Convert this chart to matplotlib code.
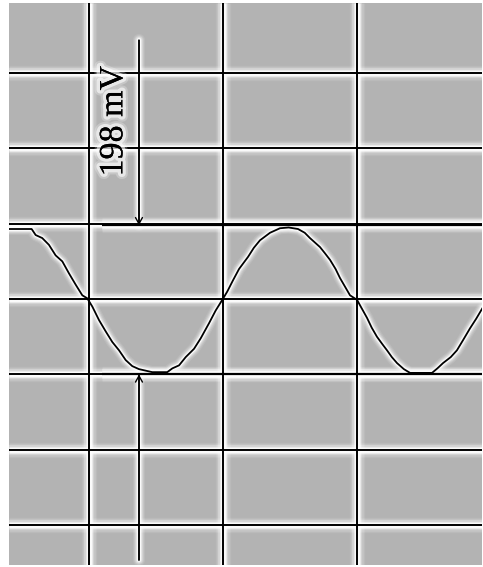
import matplotlib
matplotlib.use("Agg")
import matplotlib.pyplot as plt
import matplotlib.patheffects as pe

# ---- data ----
# time in divisions, signal in mV
time_div = [-0.597, -0.428, -0.398, -0.349, -0.299, -0.249, -0.199, -0.149, -0.099, -0.050,
            -0.013, 0.025, 0.075, 0.125, 0.174, 0.224, 0.274, 0.323, 0.373, 0.472,
            0.584, 0.622, 0.672, 0.722, 0.784, 0.834, 0.896, 0.946, 0.995, 1.032,
            1.075, 1.12, 1.187, 1.23, 1.276, 1.351, 1.425, 1.49, 1.560, 1.61,
            1.649, 1.724, 1.76, 1.799, 1.84, 1.873, 1.948, 2.000, 2.075, 2.11,
            2.149, 2.19, 2.224, 2.26, 2.299, 2.35, 2.396, 2.48, 2.560, 2.60,
            2.642, 2.70, 2.746, 2.79, 2.843, 2.89, 2.94]
signal_mv = [93, 93, 85, 81, 72, 58, 50, 34, 19, 5,
             1, -10, -28, -43, -57, -68, -81, -89, -93, -97,
             -97, -92, -88, -77, -66, -52, -32, -15, -1, 10,
             25, 40, 56, 68, 78, 88, 94, 95, 93, 88,
             81, 69, 61, 52, 40, 28, 5, -1, -25, -38,
             -50, -60, -68, -77, -85, -93, -98, -98, -98, -92,
             -85, -77, -68, -55, -39, -26, -11]

x_grid = [0, 1, 2]
y_grid_mv = [-300, -200, -100, 0, 100, 200, 300]
cursor_top_mv = 98
cursor_bottom_mv = -100
cursor_x_start = 0.10
arrow_x = 0.373
arrow_top_start = 344
arrow_bottom_start = -347
delta_label = "198 mV"
label_pos = (0.187, 236)

xlim = (-0.597, 2.933)
ylim = (-353, 393)

BG = "#b3b3b3"

fig = plt.figure(figsize=(4.83, 5.67), dpi=100)
ax = fig.add_axes([9/483, 2/567, 473/483, 562/567])
ax.set_facecolor(BG)
ax.set_xlim(*xlim)
ax.set_ylim(*ylim)
for s in ax.spines.values():
    s.set_visible(False)
ax.set_xticks([])
ax.set_yticks([])

glow_layers = [(11, 0.10), (9, 0.16), (7, 0.28), (5, 0.5), (3.5, 0.85)]

def glow_line(xs, ys, lw=1.4, glow_scale=1.0, cap="butt"):
    for w, a in glow_layers:
        ax.plot(xs, ys, color="white", lw=w * glow_scale, alpha=a,
                solid_capstyle=cap, solid_joinstyle="round", zorder=1)
    ax.plot(xs, ys, color="black", lw=lw, solid_capstyle="butt",
            solid_joinstyle="round", zorder=3)

for xv in x_grid:
    glow_line([xv, xv], list(ylim))
for yv in y_grid_mv:
    glow_line(list(xlim), [yv, yv])

# cursors
glow_line([cursor_x_start, xlim[1]], [cursor_top_mv, cursor_top_mv], lw=1.6)
glow_line([cursor_x_start, xlim[1]], [cursor_bottom_mv, cursor_bottom_mv], lw=1.6)

# arrow shafts
glow_line([arrow_x, arrow_x], [arrow_top_start, cursor_top_mv], lw=1.2,
          glow_scale=0.8, cap="round")
glow_line([arrow_x, arrow_x], [arrow_bottom_start, cursor_bottom_mv], lw=1.2,
          glow_scale=0.8, cap="round")
for start, end in [(arrow_top_start, cursor_top_mv), (arrow_bottom_start, cursor_bottom_mv)]:
    ax.annotate("", xy=(arrow_x, end), xytext=(arrow_x, start),
                arrowprops=dict(arrowstyle="->,head_length=0.45,head_width=0.25",
                                lw=1.0, color="black", shrinkA=0, shrinkB=0),
                zorder=4)

# signal trace
glow_line(time_div, signal_mv, lw=1.3, glow_scale=0.8, cap="round")

# label
ax.text(label_pos[0], label_pos[1], delta_label, rotation=90,
        ha="center", va="center", fontsize=24.5,
        family=["Liberation Serif", "DejaVu Serif"], color="black", zorder=5,
        path_effects=[pe.withStroke(linewidth=8, foreground="white", alpha=0.25),
                      pe.withStroke(linewidth=5, foreground="white", alpha=0.6),
                      pe.Normal()])

fig.savefig("out.png", dpi=100, facecolor="white")
